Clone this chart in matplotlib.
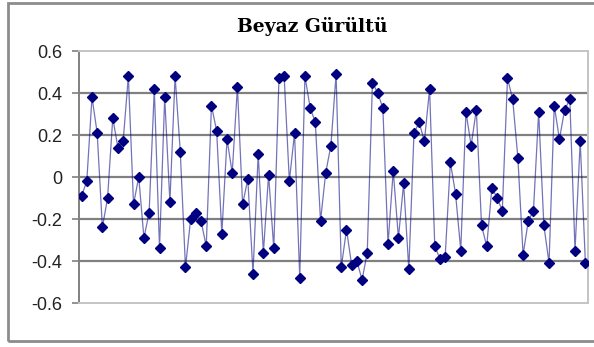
import matplotlib.pyplot as plt
from matplotlib.patches import Rectangle

# white noise samples, one per step
noise = [-0.09, -0.02, 0.38, 0.21, -0.24, -0.10, 0.28, 0.14, 0.17, 0.48,
         -0.13, 0.00, -0.29, -0.17, 0.42, -0.34, 0.38, -0.12, 0.48, 0.12,
         -0.43, -0.20, -0.17, -0.21, -0.33, 0.34, 0.22, -0.27, 0.18, 0.02,
         0.43, -0.13, -0.01, -0.46, 0.11, -0.36, 0.01, -0.34, 0.47, 0.48,
         -0.02, 0.21, -0.48, 0.48, 0.33, 0.26, -0.21, 0.02, 0.15, 0.49,
         -0.43, -0.25, -0.42, -0.40, -0.49, -0.36, 0.45, 0.40, 0.33, -0.32,
         0.03, -0.29, -0.03, -0.44, 0.21, 0.26, 0.17, 0.42, -0.33, -0.39,
         -0.38, 0.07, -0.08, -0.35, 0.31, 0.15, 0.32, -0.23, -0.33, -0.05,
         -0.10, -0.16, 0.47, 0.37, 0.09, -0.37, -0.21, -0.16, 0.31, -0.23,
         -0.41, 0.34, 0.18, 0.32, 0.37, -0.35, 0.17, -0.41]
steps = list(range(1, len(noise) + 1))
yticks = [-0.6, -0.4, -0.2, 0, 0.2, 0.4, 0.6]
ylabels = ["-0.6", "-0.4", "-0.2", "0", "0.2", "0.4", "0.6"]

fig = plt.figure(figsize=(5.94, 3.47), dpi=100)

# outer chart frame (runs off the right edge)
fig.patches.append(Rectangle((8 / 594, 6 / 347), 1.2, 338 / 347,
                             transform=fig.transFigure, fill=False,
                             edgecolor="#8c8c8c", linewidth=2.0))

ax = fig.add_axes([79 / 594, 44 / 347, 509 / 594, 252 / 347])
ax.plot(steps, noise, color="#000080", linewidth=0.9, alpha=0.55, zorder=3)
ax.plot(steps, noise, linestyle="none", marker="D", markersize=4.9,
        color="#000080", zorder=4)

ax.set_xlim(0.5, len(noise) + 0.5)
ax.set_ylim(-0.6, 0.6)
ax.set_xticks([])
ax.set_yticks(yticks)
ax.set_yticklabels(ylabels, fontsize=13, color="#222222",
                   family="Liberation Sans")
ax.tick_params(axis="y", direction="out", length=5, width=1.2,
               color="#808080", pad=7)

for v in [-0.4, -0.2, 0, 0.2, 0.4]:
    ax.axhline(v, color="#808080", linewidth=1.6, zorder=1)

ax.spines["left"].set_color("#808080")
ax.spines["left"].set_linewidth(1.4)
for side in ["top", "right", "bottom"]:
    ax.spines[side].set_color("#c4c4c4")
    ax.spines[side].set_linewidth(1.4)

fig.text(312 / 594, 1 - 26 / 347, "Beyaz Gürültü", ha="center", va="center",
         fontsize=13.5, fontweight="bold", family="DejaVu Serif")

fig.savefig("out.png", dpi=100)
